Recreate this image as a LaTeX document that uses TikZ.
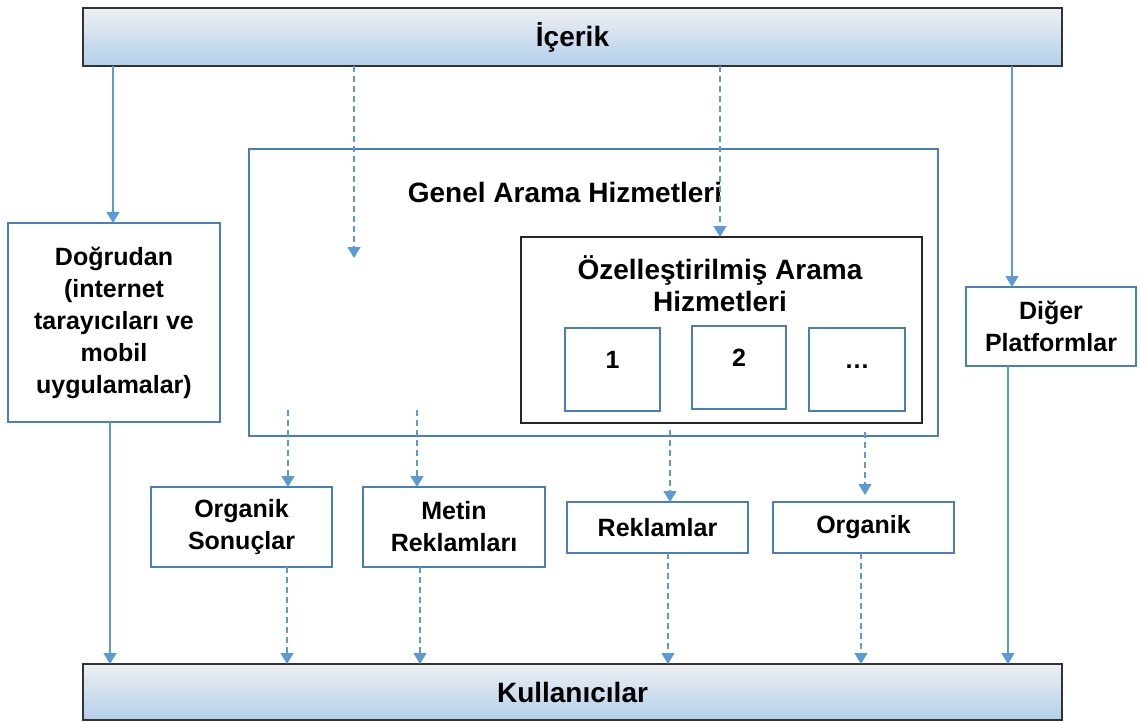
\documentclass[tikz,border=0pt]{standalone}
\usepackage{fontspec}
\setmainfont{Liberation Sans}
\usetikzlibrary{arrows.meta,calc}
\definecolor{arrblue}{HTML}{5B9BD5}
\definecolor{boxblue}{HTML}{4A7EBB}
\definecolor{bartop}{HTML}{EEF0F4}
\definecolor{barbot}{HTML}{B3CFEA}
\begin{document}
\begin{tikzpicture}[x=1pt,y=-1pt,
  every node/.style={font=\fontsize{25}{32}\selectfont\bfseries, inner sep=0pt, outer sep=0pt},
  bbox/.style={draw=boxblue, line width=1.4pt, align=center},
  kbox/.style={draw=black!85, line width=1.8pt},
  bar/.style={draw=black!80, line width=2pt, top color=bartop, bottom color=barbot, font=\fontsize{28}{32}\selectfont\bfseries},
  big/.style={font=\fontsize{28}{32}\selectfont\bfseries, align=center},
  arr/.style={draw=arrblue, line width=1.4pt, -{Triangle[width=13pt,length=11pt]}},
  darr/.style={arr, dash pattern=on 6pt off 4pt},
]
\useasboundingbox (0,0) rectangle (1140,722);

% bars
\node[bar, minimum width=979pt, minimum height=58pt] (top) at (572.5,37) {İçerik};
\node[bar, minimum width=979pt, minimum height=56pt] (bot) at (572.5,692) {Kullanıcılar};

% side boxes
\node[bbox, minimum width=212pt, minimum height=199pt] (dog) at (114,322.5)
  {Doğrudan\\(internet\\tarayıcıları ve\\mobil\\uygulamalar)};
\node[bbox, minimum width=170pt, minimum height=79pt] (dig) at (1051,326.5)
  {Diğer\\Platformlar};

% general search
\node[draw=boxblue, line width=1.4pt, minimum width=689pt, minimum height=287pt] (gen) at (593.5,292.5) {};
\node[big] (genlbl) at (565,192) {Genel Arama Hizmetleri};
\node[kbox, minimum width=401pt, minimum height=186pt] (oz) at (721.5,330) {};
\node[big] (ozlbl) at (720,284) {Özelleştirilmiş Arama\\Hizmetleri};
\node[bbox, minimum width=95pt, minimum height=83pt] (b1) at (612.5,369.5) {};
\node (t1) at (612.5,360) {1};
\node[bbox, minimum width=94pt, minimum height=83pt] (b2) at (739,367.5) {};
\node (t2) at (739,358) {2};
\node[bbox, minimum width=96pt, minimum height=83pt] (b3) at (857,369.5) {};
\node (t3) at (857,367) {…};

% result boxes
\node[bbox, minimum width=181pt, minimum height=80pt] (org) at (241.5,527) {Organik\\Sonuçlar};
\node[bbox, minimum width=182pt, minimum height=80pt] (met) at (454,527) {Metin\\Reklamları};
\node[bbox, minimum width=181pt, minimum height=51pt] (rek) at (657.5,527.5) {Reklamlar};
\node[bbox, minimum width=181pt, minimum height=51pt] (orgk) at (863.5,527.5) {Organik};

% x positions
\coordinate (xa) at (113,0);
\coordinate (xb) at (354,0);
\coordinate (xc) at (720,0);
\coordinate (xd) at (1012,0);
\coordinate (fb) at (354,258);
\coordinate (s5) at (288,410);
\coordinate (s6) at (417,410);
\coordinate (s7) at (670,430);
\coordinate (s8) at (865,432);

% top arrows
\draw[arr] (top.south -| xa) -- (dog.north -| xa);
\draw[darr] (top.south -| xb) -- (fb);
\draw[darr] (top.south -| xc) -- (oz.north -| xc);
\draw[arr] (top.south -| xd) -- (dig.north -| xd);

% arrows into result boxes
\draw[darr] (s5) -- (org.north -| s5);
\draw[darr] (s6) -- (met.north -| s6);
\draw[darr] (s7) -- (rek.north -| s7);
\draw[darr, shorten >=7pt] (s8) -- (orgk.north -| s8);

% arrows to users
\coordinate (u1) at (110,0);
\coordinate (u2) at (287,0);
\coordinate (u3) at (420,0);
\coordinate (u4) at (668,0);
\coordinate (u5) at (861,0);
\coordinate (u6) at (1008,0);
\draw[arr] (dog.south -| u1) -- (bot.north -| u1);
\draw[darr] (org.south -| u2) -- (bot.north -| u2);
\draw[darr] (met.south -| u3) -- (bot.north -| u3);
\draw[darr] (rek.south -| u4) -- (bot.north -| u4);
\draw[darr] (orgk.south -| u5) -- (bot.north -| u5);
\draw[arr] (dig.south -| u6) -- (bot.north -| u6);
\end{tikzpicture}
\end{document}
